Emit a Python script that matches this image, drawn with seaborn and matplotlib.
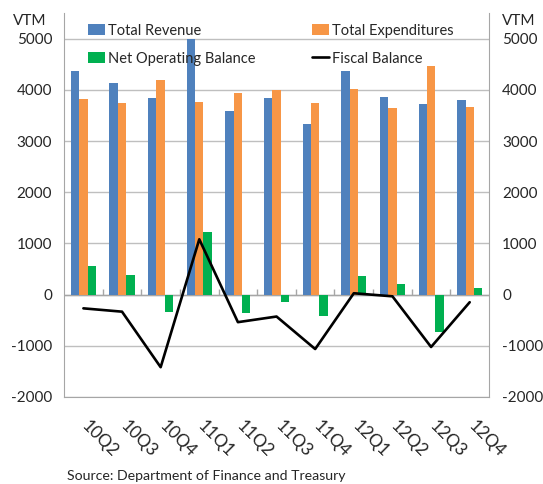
import numpy as np
import pandas as pd
import matplotlib
matplotlib.use("Agg")
import matplotlib.pyplot as plt
import seaborn as sns

quarters = ["10Q2", "10Q3", "10Q4", "11Q1", "11Q2", "11Q3",
            "11Q4", "12Q1", "12Q2", "12Q3", "12Q4"]
total_revenue = [4360, 4125, 3845, 5000, 3580, 3845, 3335, 4375, 3855, 3725, 3805]
total_expend = [3825, 3740, 4185, 3760, 3935, 4000, 3740, 4020, 3640, 4460, 3665]
net_operating = [550, 385, -335, 1230, -360, -150, -420, 355, 210, -725, 125]
fiscal_balance = [-270, -335, -1420, 1080, -540, -430, -1065, 25, -35, -1025, -150]

series_names = ["Total Revenue", "Total Expenditures", "Net Operating Balance"]
colors = ["#4F81BD", "#F79646", "#00B050"]

sns.set_style("white")
plt.rcParams["font.family"] = ["Lato", "DejaVu Sans"]

df = pd.DataFrame({
    "quarter": quarters * 3,
    "series": np.repeat(series_names, len(quarters)),
    "value": total_revenue + total_expend + net_operating,
})

fig = plt.figure(figsize=(5.43, 4.84), dpi=100)
ax = fig.add_axes([0.118, 0.180, 0.7826, 0.793])

sns.barplot(data=df, x="quarter", y="value", hue="series", order=quarters,
            hue_order=series_names, palette=colors, saturation=1,
            width=0.65, gap=0, linewidth=0, ax=ax, zorder=2)
pos = np.arange(len(quarters))
sns.lineplot(x=pos, y=fiscal_balance, color="black", lw=1.9, ax=ax,
             label="Fiscal Balance", zorder=3)

ax.set_xlim(-0.5, len(quarters) - 0.5)
ax.set_ylim(-2000, 5500)
yt = np.arange(-2000, 5001, 1000)
ax.set_yticks(yt)
ax.set_yticklabels([str(v) for v in yt])
ax.yaxis.grid(True, color="#BFBFBF", lw=1)
ax.set_axisbelow(True)
ax.axhline(0, color="#A6A6A6", lw=1, zorder=1.5)
ax.vlines(pos[1:] - 0.5, 0, 110, color="#A6A6A6", lw=1, zorder=1.5)

for s in ["left", "right", "bottom"]:
    ax.spines[s].set_color("#A6A6A6")
ax.spines["top"].set_visible(False)

ax.set_xticks(pos + 0.18)
ax.set_xticklabels(quarters, rotation=-45, ha="left", va="top",
                   rotation_mode="anchor", fontsize=12.5)
ax.tick_params(axis="x", length=0, pad=15)
ax.tick_params(axis="y", length=0, pad=8.5, labelsize=11)
ax.set_xlabel("")
ax.set_ylabel("")

ax2 = ax.twinx()
ax2.set_ylim(ax.get_ylim())
ax2.set_yticks(yt)
ax2.set_yticklabels([str(v) for v in yt])
ax2.tick_params(axis="y", length=0, pad=9.5, labelsize=11)
for s in ax2.spines.values():
    s.set_visible(False)

h, l = ax.get_legend_handles_labels()
d = dict(zip(l, h))
order = ["Total Revenue", "Net Operating Balance", "Total Expenditures", "Fiscal Balance"]
ax.legend([d[k] for k in order], order, ncol=2, frameon=False,
          loc="upper left", bbox_to_anchor=(0.162, 0.951),
          bbox_transform=fig.transFigure, borderpad=0, borderaxespad=0,
          handlelength=1.15, handleheight=0.8, handletextpad=0.2,
          columnspacing=3.9, labelspacing=0.95, fontsize=10.5).set_zorder(5)

fig.text(0.0552, 0.957, "VTM", ha="center", va="center", fontsize=11)
fig.text(0.9558, 0.957, "VTM", ha="center", va="center", fontsize=11)
fig.text(0.123, 0.0165, "Source: Department of Finance and Treasury",
         ha="left", va="center", fontsize=10.2)

fig.savefig("out.png", dpi=100)
